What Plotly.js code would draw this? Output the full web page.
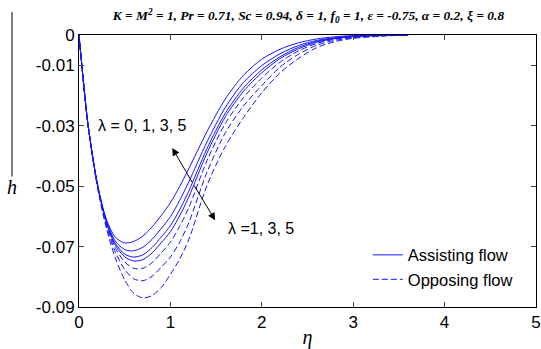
<!DOCTYPE html>
<html><head><meta charset="utf-8">
<script src="https://cdn.plot.ly/plotly-3.0.1.min.js"></script>
<style>html,body{margin:0;padding:0;background:#fff}#chart{width:541px;height:349px}</style>
</head><body><div id="chart"></div>
<script>
const eta = [0, 0.05, 0.1, 0.2, 0.3, 0.4, 0.5, 0.6, 0.7, 0.8, 0.9, 1.0, 1.1, 1.2, 1.4, 1.6, 1.8, 2.0, 2.2, 2.4, 2.6, 2.8, 3.0, 3.3, 3.6];
// Assisting flow (solid), lambda = 5, 3, 1, 0
const assist5 = [0, -0.016, -0.030, -0.0490, -0.0610, -0.0670, -0.0688, -0.0683, -0.0665, -0.0635, -0.0597, -0.0555, -0.0502, -0.0443, -0.0320, -0.0212, -0.0133, -0.0080, -0.0047, -0.0026, -0.0013, -0.0006, -0.0002, 0, 0];
const assist3 = [0, -0.016, -0.030, -0.0492, -0.0615, -0.0683, -0.0710, -0.0714, -0.0702, -0.0676, -0.0640, -0.0601, -0.0548, -0.0487, -0.0354, -0.0240, -0.0157, -0.0101, -0.0062, -0.0035, -0.0018, -0.0009, -0.0004, -0.0001, 0];
const assist1 = [0, -0.016, -0.030, -0.0493, -0.0619, -0.0691, -0.0725, -0.0735, -0.0727, -0.0703, -0.0668, -0.0631, -0.0579, -0.0517, -0.0376, -0.0259, -0.0175, -0.0115, -0.0072, -0.0041, -0.0021, -0.0011, -0.0005, -0.0001, 0];
const assist0 = [0, -0.016, -0.030, -0.0494, -0.0621, -0.0697, -0.0734, -0.0748, -0.0743, -0.0721, -0.0687, -0.0651, -0.0599, -0.0537, -0.0391, -0.0271, -0.0186, -0.0125, -0.0078, -0.0046, -0.0024, -0.0012, -0.0005, -0.0002, 0];
// Opposing flow (dashed), lambda = 1, 3, 5
const oppose1 = [0, -0.016, -0.030, -0.0495, -0.0626, -0.0706, -0.0751, -0.0772, -0.0772, -0.0753, -0.0721, -0.0685, -0.0634, -0.0572, -0.0416, -0.0293, -0.0207, -0.0142, -0.0090, -0.0053, -0.0028, -0.0014, -0.0007, -0.0002, 0];
const oppose3 = [0, -0.016, -0.030, -0.0497, -0.0632, -0.0720, -0.0776, -0.0807, -0.0813, -0.0798, -0.0768, -0.0735, -0.0686, -0.0622, -0.0454, -0.0324, -0.0235, -0.0167, -0.0106, -0.0064, -0.0034, -0.0018, -0.0009, -0.0003, 0];
const oppose5 = [0, -0.016, -0.030, -0.0500, -0.0640, -0.0740, -0.0810, -0.0855, -0.0870, -0.0862, -0.0835, -0.0792, -0.0742, -0.0678, -0.0498, -0.0369, -0.0273, -0.0191, -0.0125, -0.0078, -0.0042, -0.0022, -0.0011, -0.0004, 0];

const yTicks = [0, -0.01, -0.03, -0.05, -0.07, -0.09];
const yTickText = ['0', '-0.01', '-0.03', '-0.05', '-0.07', '-0.09'];
const xTicks = [0, 1, 2, 3, 4, 5];

const blue = 'rgb(20,20,255)';
function tr(y, dashed, name, show) {
  return {x: eta, y: y, type: 'scatter', mode: 'lines', name: name, showlegend: show,
    line: {color: blue, width: 1, dash: dashed ? '6px,3px' : 'solid', shape: 'spline', smoothing: 0.8}};
}
const data = [
  tr(assist0, false, 'Assisting flow', true),
  tr(assist1, false, 'λ=1 assisting', false),
  tr(assist3, false, 'λ=3 assisting', false),
  tr(assist5, false, 'λ=5 assisting', false),
  tr(oppose1, true, 'Opposing flow', true),
  tr(oppose3, true, 'λ=3 opposing', false),
  tr(oppose5, true, 'λ=5 opposing', false)
];
const axFont = {family: 'Liberation Sans, Arial, sans-serif', size: 17, color: '#000'};
const layout = {
  width: 541, height: 349,
  margin: {l: 79, r: 5, t: 35, b: 42},
  paper_bgcolor: '#fff', plot_bgcolor: '#fff',
  title: {text: 'K = M<sup>2</sup> = 1, Pr = 0.71, Sc = 0.94, δ = 1, f<sub>0</sub> = 1, ε = -0.75, α = 0.2, ξ = 0.8',
    font: {family: 'Liberation Serif, Times New Roman, serif', size: 13.4, color: '#000', weight: 'bold', style: 'italic'},
    x: 0.502, xref: 'paper', xanchor: 'center', y: 0.955, yref: 'container', yanchor: 'middle'},
  xaxis: {range: [0, 5], tickvals: xTicks, ticktext: xTicks.map(String), ticks: 'inside', ticklen: 5,
    showline: true, linecolor: '#000', linewidth: 1, mirror: 'ticks', showgrid: false, zeroline: false,
    tickfont: axFont, title: {text: 'η', font: {family: 'Liberation Serif, serif', size: 20, style: 'italic', color: '#000'}, standoff: 2}},
  yaxis: {range: [-0.09, 0], tickvals: yTicks, ticktext: yTickText, ticks: 'inside', ticklen: 5,
    showline: true, linecolor: '#000', linewidth: 1, mirror: 'ticks', showgrid: false, zeroline: false,
    tickfont: axFont},
  showlegend: true,
  legend: {x: 0.632, y: 0.255, xanchor: 'left', yanchor: 'top', bgcolor: 'rgba(255,255,255,1)', borderwidth: 0,
    font: {family: 'Liberation Sans, Arial, sans-serif', size: 16.5, color: '#000'}},
  annotations: [
    {xref: 'paper', yref: 'paper', x: -0.1466, y: 0.44, xanchor: 'center', yanchor: 'middle', text: 'h', showarrow: false,
      font: {family: 'Liberation Serif, serif', size: 20, style: 'italic', color: '#000'}},
    {x: 0.70, y: -0.0301, xanchor: 'center', text: 'λ = 0, 1, 3, 5', showarrow: false, font: {family: 'Liberation Sans, Arial, sans-serif', size: 16, color: '#000'}},
    {x: 1.99, y: -0.0639, xanchor: 'center', text: 'λ =1, 3, 5', showarrow: false, font: {family: 'Liberation Sans, Arial, sans-serif', size: 16, color: '#000'}},
    {x: 1.02, y: -0.0374, ax: 1.25, ay: -0.0493, axref: 'x', ayref: 'y', text: '', showarrow: true,
      arrowhead: 2, arrowsize: 1.5, arrowwidth: 1, arrowcolor: '#000'},
    {x: 1.49, y: -0.0613, ax: 1.25, ay: -0.0493, axref: 'x', ayref: 'y', text: '', showarrow: true,
      arrowhead: 2, arrowsize: 1.5, arrowwidth: 1, arrowcolor: '#000'}
  ],
  shapes: [
    {type: 'line', xref: 'paper', yref: 'paper', x0: -0.1466, x1: -0.1466, y0: 1.085, y1: 0.48,
      line: {color: '#000', width: 1}}
  ]
};
Plotly.newPlot('chart', data, layout, {displayModeBar: false, staticPlot: true});
</script></body></html>
